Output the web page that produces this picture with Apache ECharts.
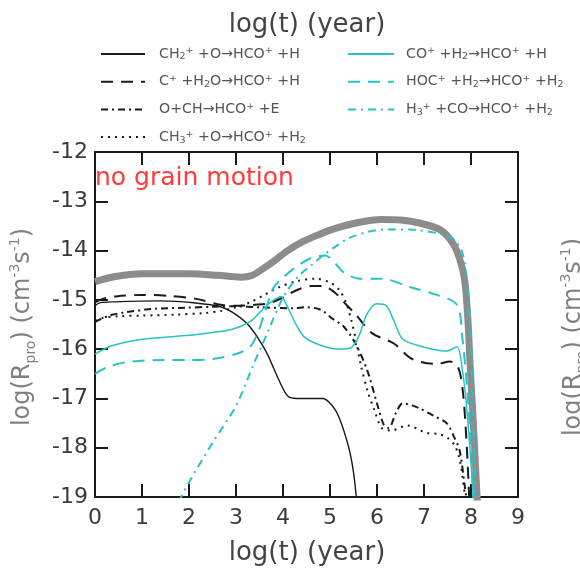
<!DOCTYPE html>
<html><head><meta charset="utf-8">
<script src="https://cdn.jsdelivr.net/npm/echarts@6/dist/echarts.min.js"></script>
<style>html,body{margin:0;padding:0;background:#fff}#c{width:580px;height:571px}</style>
</head><body><div id="c"></div>
<script>
// ---- axis ranges / ticks ----
const xRange = [0, 9];
const yRange = [-19, -12];
const xTickStep = 1;
const yTickStep = 1;

// ---- series data: [log(t), log(R_pro)] ----
const ch2_O = [[0,-15.12],[0.1,-15.06],[0.4,-15.04],[1.4,-15.02],[2.1,-15.06],[2.67,-15.14],[3.0,-15.3],[3.3,-15.55],[3.64,-16.05],[3.9,-16.6],[4.1,-16.95],[4.3,-17.0],[4.85,-17.0],[5.05,-17.15],[5.2,-17.4],[5.4,-18.0],[5.5,-18.5],[5.58,-19.2]];
const cPlus_H2O = [[0,-15.05],[0.2,-14.97],[0.45,-14.93],[1.0,-14.9],[1.6,-14.92],[2.15,-14.98],[2.67,-15.1],[3.0,-15.12],[3.4,-15.1],[3.7,-15.07],[4.0,-14.95],[4.3,-14.8],[4.6,-14.72],[4.85,-14.72],[5.1,-14.85],[5.3,-15.05],[5.55,-15.3],[5.9,-15.68],[6.35,-15.88],[6.75,-16.2],[7.27,-16.3],[7.55,-16.25],[7.72,-16.35],[7.82,-16.8],[7.9,-17.8],[7.97,-19.2]];
const o_CH = [[0,-15.45],[0.3,-15.32],[0.6,-15.26],[1.28,-15.18],[1.92,-15.16],[2.5,-15.14],[3.0,-15.13],[3.5,-15.15],[4.2,-15.17],[4.5,-15.15],[4.8,-15.2],[5.05,-15.38],[5.3,-15.55],[5.55,-15.9],[5.8,-16.45],[6.0,-17.1],[6.15,-17.55],[6.25,-17.6],[6.4,-17.3],[6.55,-17.1],[6.9,-17.2],[7.2,-17.35],[7.48,-17.5],[7.65,-17.8],[7.76,-18.06],[7.87,-18.8],[7.93,-19.2]];
const ch3_O = [[0,-15.42],[0.15,-15.37],[0.5,-15.33],[1,-15.32],[1.7,-15.3],[2.3,-15.27],[2.7,-15.22],[3.0,-15.15],[3.3,-15.05],[3.6,-14.9],[3.9,-14.75],[4.3,-14.62],[4.7,-14.57],[5.0,-14.65],[5.2,-14.8],[5.35,-15.08],[5.45,-15.4],[5.55,-15.8],[5.65,-16.3],[5.8,-16.85],[5.95,-17.25],[6.1,-17.6],[6.3,-17.65],[6.65,-17.55],[7.05,-17.7],[7.3,-17.72],[7.5,-17.8],[7.65,-17.95],[7.75,-18.2],[7.82,-18.6],[7.9,-19.2]];
const coPlus_H2 = [[0,-16.1],[0.3,-15.95],[0.7,-15.85],[1.2,-15.78],[2,-15.72],[2.5,-15.66],[2.9,-15.6],[3.3,-15.44],[3.56,-15.2],[3.78,-15.02],[3.95,-14.93],[4.1,-15.15],[4.25,-15.45],[4.45,-15.75],[4.8,-15.92],[5.2,-16.0],[5.45,-15.97],[5.63,-15.7],[5.78,-15.3],[5.99,-15.08],[6.2,-15.12],[6.37,-15.45],[6.55,-15.8],[6.97,-15.95],[7.48,-16.04],[7.7,-15.95],[7.82,-16.45],[7.9,-17.1],[8.0,-18.3],[8.06,-19.2]];
const hocPlus_H2 = [[0,-16.5],[0.3,-16.35],[0.7,-16.26],[1.5,-16.22],[2,-16.22],[2.5,-16.2],[3.0,-16.1],[3.3,-15.95],[3.45,-15.7],[3.6,-15.3],[3.8,-14.75],[4.0,-14.55],[4.25,-14.35],[4.6,-14.15],[4.9,-14.1],[5.1,-14.25],[5.3,-14.45],[5.63,-14.57],[6.1,-14.57],[6.7,-14.74],[7.27,-14.9],[7.7,-15.1],[7.82,-15.8],[7.95,-17.2],[8.06,-19.2]];
const h3Plus_CO = [[1.78,-19.1],[2.0,-18.7],[2.5,-17.9],[3.0,-17.15],[3.4,-16.25],[3.7,-15.6],[3.9,-15.15],[4.1,-14.8],[4.35,-14.5],[4.6,-14.3],[4.85,-14.1],[5.1,-13.93],[5.4,-13.75],[5.8,-13.62],[6.2,-13.57],[6.8,-13.58],[7.3,-13.65],[7.6,-13.75],[7.8,-14.0],[7.9,-14.5],[8.0,-16],[8.05,-17.5],[8.1,-19.2]];
const total = [[0,-14.63],[0.4,-14.53],[1,-14.47],[2,-14.47],[2.6,-14.5],[3.1,-14.54],[3.35,-14.5],[3.6,-14.35],[3.8,-14.22],[4.1,-14.0],[4.4,-13.83],[4.7,-13.7],[5.05,-13.57],[5.6,-13.43],[6.1,-13.37],[6.5,-13.38],[6.85,-13.43],[7.33,-13.57],[7.6,-13.83],[7.76,-14.17],[7.87,-14.63],[7.94,-15.5],[7.98,-16.3],[8.05,-17.5],[8.14,-19.2]];

// ---- texts ----
const seriesNames = ['CH2+O','C+H2O','O+CH','CH3+O','CO+H2','HOC+H2','H3+CO'];
const legendLabels = [
  'CH{sub|2}{sup|+} +O→HCO{sup|+} +H',
  'C{sup|+} +H{sub|2}O→HCO{sup|+} +H',
  'O+CH→HCO{sup|+} +E',
  'CH{sub|3}{sup|+} +O→HCO{sup|+} +H{sub|2}',
  'CO{sup|+} +H{sub|2}→HCO{sup|+} +H',
  'HOC{sup|+} +H{sub|2}→HCO{sup|+} +H{sub|2}',
  'H{sub|3}{sup|+} +CO→HCO{sup|+} +H{sub|2}'
];
const xTitle = 'log(t) (year)';
const yTitle = 'log(R{sub|pro}) (cm{sup|-3}s{sup|-1})';
const panelNote = 'no grain motion';

const FF = '"DejaVu Sans", "Noto Sans", sans-serif';
const BLACK = '#1a1a1a';
const CYAN = '#27c2c8';

const chart = echarts.init(document.getElementById('c'), null, {renderer:'canvas'});
const labelMap = {};
seriesNames.forEach((n,i)=>labelMap[n]=legendLabels[i]);

const legRich = {
  sup:{fontSize:9.5, lineHeight:9, verticalAlign:'top', color:'#555', fontFamily:FF},
  sub:{fontSize:9.5, lineHeight:9, verticalAlign:'bottom', color:'#555', fontFamily:FF}
};
const legText = {fontSize:14.2, lineHeight:16, color:'#555', fontFamily:FF, padding:[0,0,0,9], rich:legRich};
const legItem = {color:'rgba(0,0,0,0)', borderColor:'rgba(0,0,0,0)', borderWidth:0};

function ln(name, data, color, width, type, z){
  return {name, type:'line', data, symbol:'none', showSymbol:false, smooth:0.3, silent:true, z,
    lineStyle:{color, width, type}, itemStyle:{color}};
}

const titleRich = {
  sup:{fontSize:14, lineHeight:14, verticalAlign:'top', fill:'#808080', fontFamily:FF},
  sub:{fontSize:14, lineHeight:14, verticalAlign:'bottom', fill:'#808080', fontFamily:FF}
};

const axisCommon = {
  type:'value', splitLine:{show:false},
  axisLine:{show:true, onZero:false, lineStyle:{color:BLACK, width:2}},
  axisTick:{show:true, inside:true, length:13, lineStyle:{color:BLACK, width:2}}
};

chart.setOption({
  animation:false,
  backgroundColor:'#fff',
  grid:{left:95, right:62, top:152, bottom:74, containLabel:false},
  xAxis:[
    Object.assign({}, axisCommon, {min:xRange[0], max:xRange[1], interval:xTickStep, position:'bottom',
      axisLabel:{fontSize:22, color:'#3a3a3a', margin:10, fontFamily:FF, showMinLabel:true, showMaxLabel:true}}),
    Object.assign({}, axisCommon, {min:xRange[0], max:xRange[1], interval:xTickStep, position:'top', axisLabel:{show:false}})
  ],
  yAxis:[
    Object.assign({}, axisCommon, {min:yRange[0], max:yRange[1], interval:yTickStep, position:'left',
      axisLabel:{fontSize:22, color:'#3a3a3a', margin:7, fontFamily:FF, showMinLabel:true, showMaxLabel:true}}),
    Object.assign({}, axisCommon, {min:yRange[0], max:yRange[1], interval:yTickStep, position:'right', axisLabel:{show:false}})
  ],
  legend:[
    {data:seriesNames.slice(0,4), left:100, top:46, padding:0, orient:'vertical', itemWidth:44, itemHeight:14, itemGap:11.7,
      selectedMode:false, formatter:n=>labelMap[n], textStyle:legText, itemStyle:legItem},
    {data:seriesNames.slice(4), left:347, top:46, padding:0, orient:'vertical', itemWidth:46, itemHeight:14, itemGap:11.7,
      selectedMode:false, formatter:n=>labelMap[n], textStyle:Object.assign({}, legText, {padding:[0,0,0,7]}), itemStyle:legItem}
  ],
  series:[
    ln('total', total, '#8c8c8c', 7, 'solid', 1),
    ln(seriesNames[0], ch2_O, BLACK, 1.4, 'solid', 3),
    ln(seriesNames[1], cPlus_H2O, BLACK, 2, [12,8], 3),
    ln(seriesNames[2], o_CH, BLACK, 2, [7,4,2,4], 3),
    ln(seriesNames[3], ch3_O, BLACK, 2, [2,5], 3),
    ln(seriesNames[4], coPlus_H2, CYAN, 1.5, 'solid', 4),
    ln(seriesNames[5], hocPlus_H2, CYAN, 2, [12,8], 4),
    ln(seriesNames[6], h3Plus_CO, CYAN, 2, [8,5,2,5], 4)
  ],
  graphic:[
    {type:'text', x:307, y:25, silent:true, style:{text:xTitle, fill:'#444', fontSize:26, fontFamily:FF, align:'center', verticalAlign:'middle'}},
    {type:'text', x:307, y:553, silent:true, style:{text:xTitle, fill:'#444', fontSize:26, fontFamily:FF, align:'center', verticalAlign:'middle'}},
    {type:'text', x:95, y:178, silent:true, z:10, style:{text:panelNote, fill:'#ff3b3b', fontSize:25, fontFamily:FF, align:'left', verticalAlign:'middle'}},
    {type:'text', x:23, y:327, rotation:Math.PI/2, silent:true, style:{text:yTitle, rich:titleRich, fill:'#808080', fontSize:24, lineHeight:30, fontFamily:FF, align:'center', verticalAlign:'middle'}},
    {type:'text', x:574, y:337, rotation:Math.PI/2, silent:true, style:{text:yTitle, rich:titleRich, fill:'#808080', fontSize:24, lineHeight:30, fontFamily:FF, align:'center', verticalAlign:'middle'}}
  ]
});
</script></body></html>
